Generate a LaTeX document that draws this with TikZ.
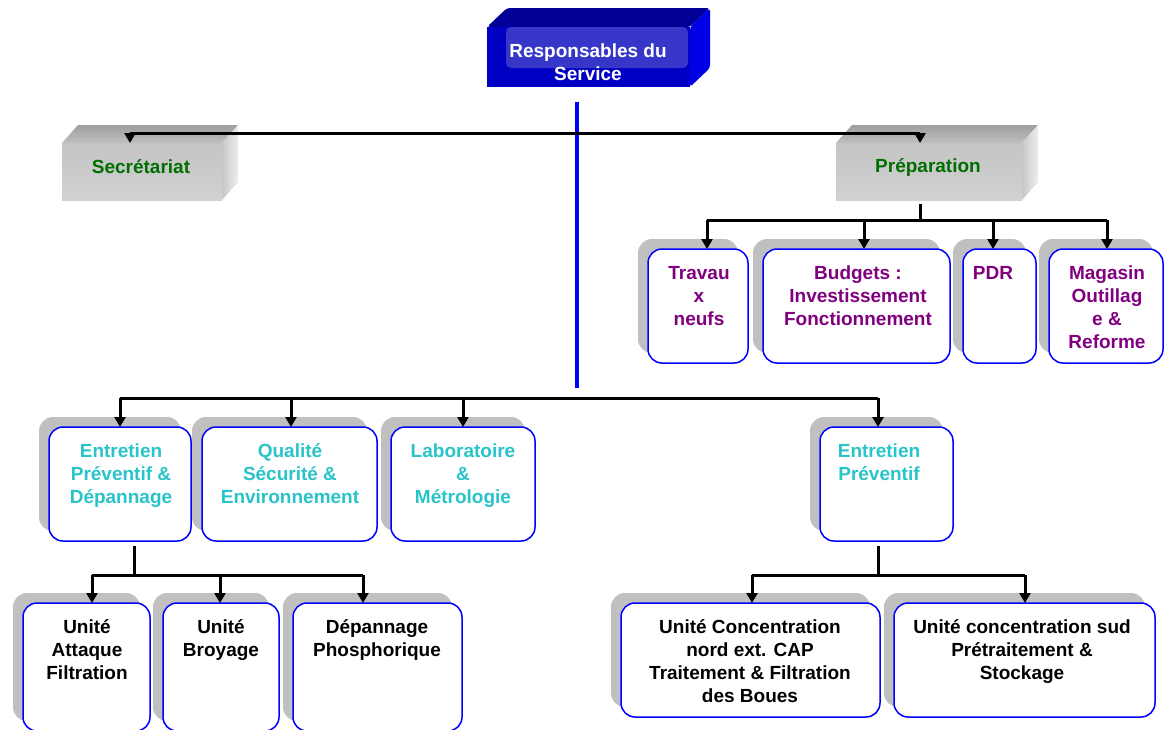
\documentclass[tikz,border=0pt]{standalone}
\usepackage{fontspec}
\setmainfont{Liberation Sans}
\usetikzlibrary{arrows.meta,calc}
\definecolor{shadowc}{RGB}{192,192,192}
\definecolor{boxblue}{RGB}{0,0,255}
\definecolor{purpletxt}{RGB}{128,0,128}
\definecolor{tealtxt}{RGB}{40,196,200}
\definecolor{greentxt}{RGB}{0,110,0}
\definecolor{navytop}{RGB}{0,0,150}
\definecolor{navyfront}{RGB}{0,0,196}
\definecolor{navyside}{RGB}{0,0,230}
\definecolor{navyinner}{RGB}{54,54,200}
\tikzset{
  wbox/.style={draw=boxblue, line width=1.5pt, fill=white, rounded corners=14pt, inner sep=0pt, outer sep=0pt},
  btext/.style={font=\fontsize{19}{23}\selectfont\bfseries, align=center, inner sep=0pt, anchor=north},
  conn/.style={line width=3pt, black},
  arr/.style={line width=3pt, black, -{Triangle[width=11pt,length=10pt]}},
  blueline/.style={line width=4pt, boxblue},
  facebox/.style={inner sep=0pt, outer sep=0pt}
}
% #1 name, #2 x1, #3 y1, #4 x2, #5 y2, #6 text x, #7 colour, #8 text
\newcommand\wboxdraw[8]{%
  \fill[shadowc, rounded corners=14pt] (#2-10,#3-10) rectangle (#4-10,#5-10);
  \node[wbox, minimum width={#4-#2}, minimum height={#5-#3}] (#1) at ({(#2+#4)/2},{(#3+#5)/2}) {};
  \node[btext, text=#7] (#1t) at (#6,#3+14) {\strut #8};
}
\begin{document}
\begin{tikzpicture}[x=1pt,y=-1pt]
\clip (0,0) rectangle (1168,729);
\fill[white] (0,0) rectangle (1168,729);

% ---- top blue box ----
\fill[navytop, rounded corners=3pt] (487,27) -- (507,8) -- (710,8) -- (690,27) -- cycle;
\fill[navyside, rounded corners=3pt] (690,27) -- (710,8) -- (710,68) -- (690,87) -- cycle;
\node[facebox, fill=navyfront, minimum width=203, minimum height=60] (resp) at (588.5,57) {};
\fill[navyinner, rounded corners=5pt] (506,27) rectangle (688,68);
\node[btext, text=white] (respt) at (588,41) {\strut Responsables du\\Service};

% ---- Secrétariat ----
\shade[top color=black!38, bottom color=black!25] (62,143) -- (78,125) -- (238,125) -- (222,143) -- cycle;
\shade[left color=black!22, right color=black!7] (222,143) -- (238,125) -- (238,182) -- (222,200) -- cycle;
\node[facebox, top color=black!23, bottom color=black!18, minimum width=160, minimum height=57] (sec) at (142,171.5) {};
\node[btext, text=greentxt, anchor=center] (sect) at (141,167) {Secrétariat};

% ---- Préparation ----
\shade[top color=black!38, bottom color=black!25] (836,143) -- (852,125) -- (1038,125) -- (1022,143) -- cycle;
\shade[left color=black!22, right color=black!7] (1022,143) -- (1038,125) -- (1038,182) -- (1022,200) -- cycle;
\node[facebox, top color=black!23, bottom color=black!18, minimum width=186, minimum height=57] (prep) at (929,171.5) {};
\node[btext, text=greentxt, anchor=center] (prept) at (928,167) {Préparation};

% ---- Préparation children ----
\wboxdraw{trav}{648}{249}{748}{363}{699}{purpletxt}{Travau\\x\\neufs}
\wboxdraw{budg}{763}{249}{950}{363}{858}{purpletxt}{Budgets :\\Investissement\\Fonctionnement}
\wboxdraw{pdr}{963}{249}{1036}{363}{993}{purpletxt}{PDR}
\wboxdraw{mag}{1049}{249}{1163}{363}{1107}{purpletxt}{Magasin\\Outillag\\e \&\\Reforme}

% ---- middle row ----
\wboxdraw{epd}{49}{427}{191}{541}{121}{tealtxt}{Entretien\\Préventif \&\\Dépannage}
\wboxdraw{qse}{202}{427}{377}{541}{290}{tealtxt}{Qualité\\Sécurité \&\\Environnement}
\wboxdraw{lab}{391}{427}{535}{541}{463}{tealtxt}{Laboratoire\\\&\\Métrologie}
\wboxdraw{ep}{820}{427}{953}{541}{879}{tealtxt}{Entretien\\Préventif}

% ---- bottom row ----
\wboxdraw{uaf}{23}{603}{150}{731}{87}{black}{Unité\\Attaque\\Filtration}
\wboxdraw{ub}{163}{603}{279}{731}{221}{black}{Unité\\Broyage}
\wboxdraw{dp}{293}{603}{462}{731}{377}{black}{Dépannage\\Phosphorique}
\wboxdraw{ucn}{621}{603}{880}{717}{750}{black}{Unité Concentration\\nord ext. CAP\\Traitement \& Filtration\\des Boues}
\wboxdraw{ucs}{894}{603}{1155}{717}{1022}{black}{Unité concentration sud\\Prétraitement \&\\Stockage}

% ---- connectors ----
\coordinate (vtop) at (577,102);
\coordinate (vbot) at (577,388);
\draw[blueline] (vtop) -- (vbot);

% top bus
\coordinate (b1L) at (130,133);
\coordinate (b1R) at (920,133);
\draw[conn] (b1L) -- (b1R);
\draw[arr] (b1L) -- (b1L |- sec.north);
\draw[arr] (b1R) -- (b1R |- prep.north);

% Préparation bus
\coordinate (p0) at (920,204);
\coordinate (pL) at (707,220);
\coordinate (pR) at (1107,220);
\draw[conn] (p0) -- (p0 |- pL);
\draw[conn] (pL) -- (pR);
\coordinate (p1) at (707,220);
\coordinate (p2) at (864,220);
\coordinate (p3) at (993,220);
\coordinate (p4) at (1107,220);
\draw[arr] (p1) -- (p1 |- trav.north);
\draw[arr] (p2) -- (p2 |- budg.north);
\draw[arr] (p3) -- (p3 |- pdr.north);
\draw[arr] (p4) -- (p4 |- mag.north);

% middle bus
\coordinate (m1) at (120,398);
\coordinate (m2) at (291,398);
\coordinate (m3) at (463,398);
\coordinate (m4) at (878,398);
\draw[conn] (m1) -- (m4);
\draw[arr] (m1) -- (m1 |- epd.north);
\draw[arr] (m2) -- (m2 |- qse.north);
\draw[arr] (m3) -- (m3 |- lab.north);
\draw[arr] (m4) -- (m4 |- ep.north);

% bottom-left bus
\coordinate (l0) at (134,546);
\coordinate (l1) at (92,575);
\coordinate (l2) at (220,575);
\coordinate (l3) at (363,575);
\draw[conn] (l0) -- (l0 |- l1);
\draw[conn] (l1) -- (l3);
\draw[arr] (l1) -- (l1 |- uaf.north);
\draw[arr] (l2) -- (l2 |- ub.north);
\draw[arr] (l3) -- (l3 |- dp.north);

% bottom-right bus
\coordinate (r0) at (878,546);
\coordinate (r1) at (752,575);
\coordinate (r2) at (1025,575);
\draw[conn] (r0) -- (r0 |- r1);
\draw[conn] (r1) -- (r2);
\draw[arr] (r1) -- (r1 |- ucn.north);
\draw[arr] (r2) -- (r2 |- ucs.north);
\end{tikzpicture}
\end{document}
